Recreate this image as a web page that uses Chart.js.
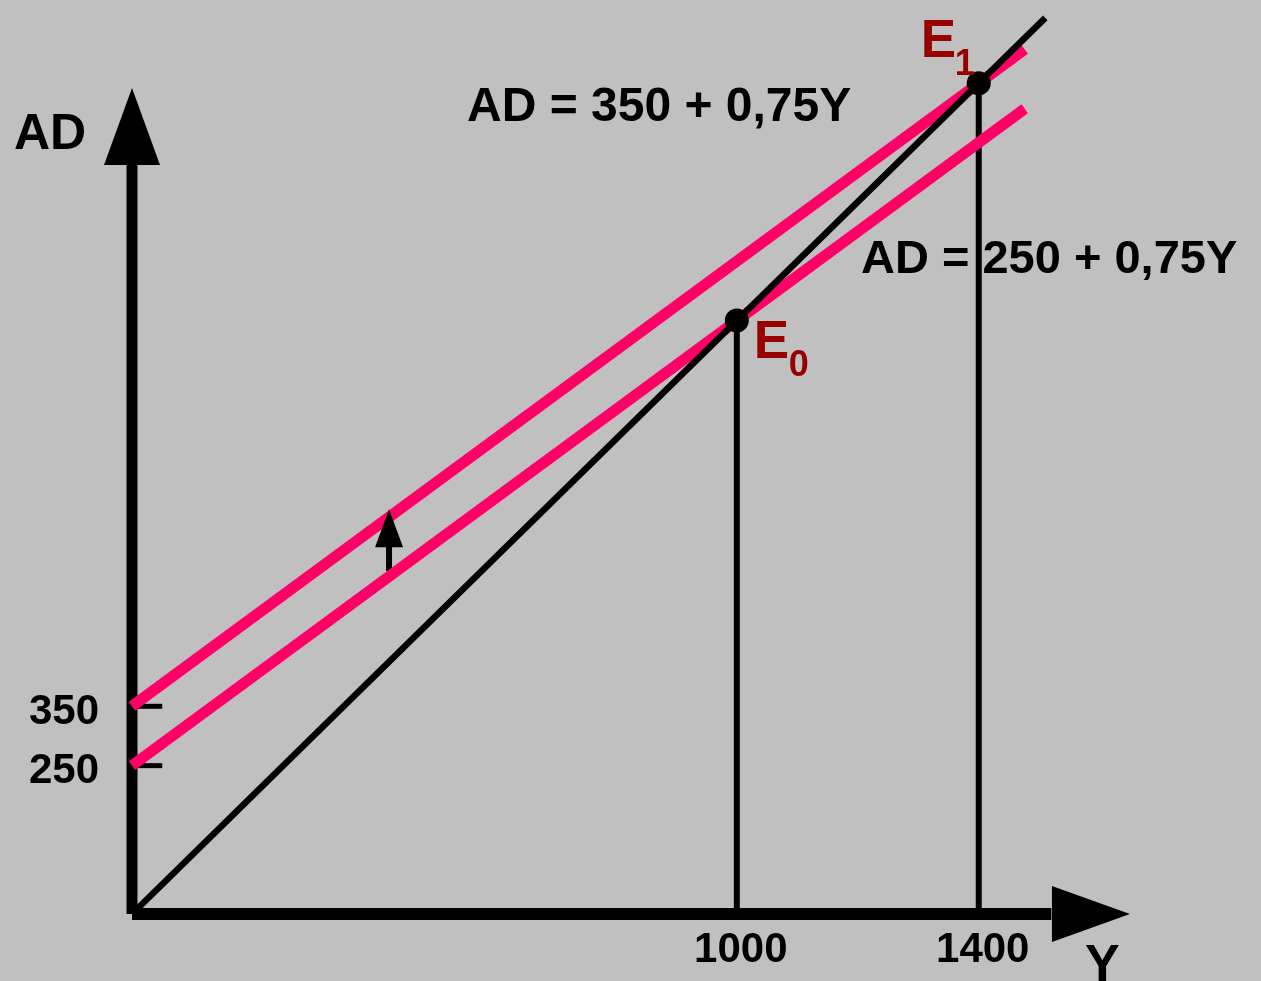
<!DOCTYPE html>
<html>
<head>
<meta charset="utf-8">
<script src="https://cdn.jsdelivr.net/npm/chart.js@4"></script>
<style>
  body { margin: 0; background: #c0c0c0; }
  #wrap { width: 1261px; height: 981px; }
</style>
</head>
<body>
<div id="wrap"><canvas id="cross" width="1261" height="981"></canvas></div>
<script>
// Keynesian cross: AD shifts from 250 + 0,75Y to 350 + 0,75Y
const adX = [0, 1476];
const lowerAD = [250, 1357];   // AD = 250 + 0,75Y
const upperAD = [350, 1457];   // AD = 350 + 0,75Y
const diagX = [0, 1510];
const diagY = [0, 1510];        // 45 degree line
const eqX = [1000, 1400];       // E0, E1
const eqY = [1000, 1400];
const xTicks = [1000, 1400];
const yTicks = [350, 250];
const eqLabels = ['0', '1'];
const lowerText = 'AD = 250 + 0,75Y';
const upperText = 'AD = 350 + 0,75Y';

// shift arrow and axis arrow ends (data units)
const shiftX = 425, shiftFrom = 578, shiftTo = 682;
const yAxisEnd = 1392, xAxisEnd = 1650;

const PINK = '#ff0066';
const DARKRED = '#990000';
const FONT = '"Liberation Sans", Arial, sans-serif';

function pts(xs, ys) {
    return xs.map((x, i) => ({ x: x, y: ys[i] }));
}

function lineSet(data, color, width, order) {
    return {
        type: 'line', data: data, borderColor: color, borderWidth: width,
        pointRadius: 0, fill: false, tension: 0, order: order, clip: false
    };
}

const datasets = [
    // dots on top
    {
        type: 'scatter', data: pts(eqX, eqY), backgroundColor: '#000',
        borderWidth: 0, pointRadius: 12, order: 0, clip: false
    },
    lineSet(pts(diagX, diagY), '#000', 6.5, 1),
    lineSet(pts(adX, upperAD), PINK, 11, 2),
    lineSet(pts(adX, lowerAD), PINK, 11, 3),
    lineSet(pts([eqX[0], eqX[0]], [0, eqY[0]]), '#000', 6, 4),
    lineSet(pts([eqX[1], eqX[1]], [0, eqY[1]]), '#000', 6, 5),
    // axes
    lineSet(pts([0, 0], [0, yAxisEnd - 130]), '#000', 11, 6),
    lineSet(pts([0, xAxisEnd - 130], [0, 0]), '#000', 12, 7),
    // y ticks
    lineSet(pts([0, 50], [yTicks[0], yTicks[0]]), '#000', 5, 8),
    lineSet(pts([0, 50], [yTicks[1], yTicks[1]]), '#000', 5, 9),
    // shift arrow shaft
    lineSet(pts([shiftX, shiftX], [shiftFrom, shiftTo - 60]), '#000', 6, 10)
];

function tri(ctx, a, b, c) {
    ctx.beginPath();
    ctx.moveTo(a[0], a[1]);
    ctx.lineTo(b[0], b[1]);
    ctx.lineTo(c[0], c[1]);
    ctx.closePath();
    ctx.fill();
}

const decor = {
    id: 'decor',
    afterDatasetsDraw(chart) {
        const ctx = chart.ctx;
        const xs = chart.scales.x, ys = chart.scales.y;
        const px = v => xs.getPixelForValue(v);
        const py = v => ys.getPixelForValue(v);
        ctx.save();
        ctx.fillStyle = '#000';

        // axis arrowheads
        const x0 = px(0), y0 = py(0);
        tri(ctx, [x0, py(yAxisEnd)], [x0 - 28, py(yAxisEnd) + 77], [x0 + 28, py(yAxisEnd) + 77]);
        tri(ctx, [px(xAxisEnd), y0], [px(xAxisEnd) - 78, y0 - 28], [px(xAxisEnd) - 78, y0 + 28]);
        // shift arrowhead
        const sx = px(shiftX), st = py(shiftTo);
        tri(ctx, [sx, st], [sx - 14, st + 38], [sx + 14, st + 38]);

        // axis titles
        ctx.font = 'bold 50px ' + FONT;
        ctx.textAlign = 'left';
        ctx.textBaseline = 'alphabetic';
        ctx.fillText('AD', 14, 149);
        ctx.font = 'bold 52px ' + FONT;
        ctx.fillText('Y', 1085, 981);

        // tick labels
        ctx.font = 'bold 42px ' + FONT;
        ctx.textAlign = 'right';
        ctx.textBaseline = 'middle';
        yTicks.forEach(v => ctx.fillText(String(v), 99, py(v) + 6));
        ctx.textAlign = 'center';
        ctx.textBaseline = 'alphabetic';
        xTicks.forEach(v => ctx.fillText(String(v), px(v) + 4, 962));

        // equations
        ctx.font = 'bold 48px ' + FONT;
        ctx.textAlign = 'left';
        ctx.fillText(upperText, 467, 121);
        ctx.font = 'bold 47px ' + FONT;
        ctx.fillText(lowerText, 861, 273);

        // equilibrium labels
        ctx.fillStyle = DARKRED;
        const ex0 = px(eqX[0]), ey0 = py(eqY[0]);
        ctx.font = 'bold 53px ' + FONT;
        ctx.fillText('E', ex0 + 17, ey0 + 37);
        ctx.font = 'bold 36px ' + FONT;
        ctx.fillText(eqLabels[0], ex0 + 52, ey0 + 55);
        const ex1 = px(eqX[1]), ey1 = py(eqY[1]);
        ctx.font = 'bold 53px ' + FONT;
        ctx.fillText('E', ex1 - 58, ey1 - 26);
        ctx.font = 'bold 36px ' + FONT;
        ctx.fillText(eqLabels[1], ex1 - 24, ey1 - 8);
        ctx.restore();
    }
};

new Chart(document.getElementById('cross'), {
    type: 'line',
    data: { datasets: datasets },
    options: {
        responsive: false,
        animation: false,
        layout: { padding: { left: 132, right: 125, top: 7, bottom: 67 } },
        scales: {
            x: { type: 'linear', min: 0, max: 1660, display: false },
            y: { type: 'linear', min: 0, max: 1520, display: false }
        },
        plugins: { legend: { display: false }, tooltip: { enabled: false } }
    },
    plugins: [decor]
});
</script>
</body>
</html>
